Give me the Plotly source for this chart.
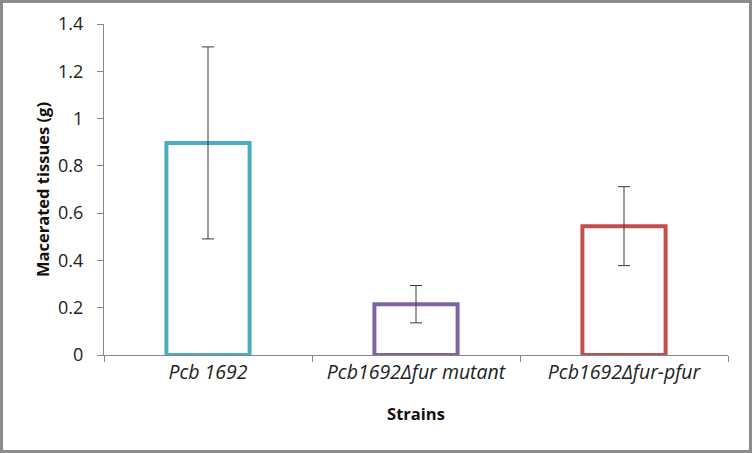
import plotly.graph_objects as go

strains = ["Pcb 1692", "Pcb1692Δfur mutant", "Pcb1692Δfur-pfur"]
macerated = [0.897, 0.215, 0.545]
errors = [0.406, 0.079, 0.167]
colors = ["#4BACC6", "#8064A2", "#C0504D"]
y_ticks = [0, 0.2, 0.4, 0.6, 0.8, 1, 1.2, 1.4]

W, H = 752, 453
L, R, T, B = 104, 24, 24, 98

fig = go.Figure()
fig.add_trace(go.Bar(
    x=strains, y=macerated, width=0.4,
    marker=dict(color="white", line=dict(color=colors, width=4)),
    error_y=dict(type="data", array=errors, visible=True,
                 color="#3a3a3a", thickness=1, width=6),
))

# grey frame round the whole picture
pw, ph = W - L - R, H - T - B
fig.add_shape(type="rect", xref="paper", yref="paper",
              x0=-(L - 1.5) / pw, x1=1 + (R - 1.5) / pw,
              y0=-(B - 1.5) / ph, y1=1 + (T - 1.5) / ph,
              line=dict(color="#8c8c8c", width=3))

fig.update_xaxes(type="category", range=[-0.5, 2.5], tickson="boundaries",
                 ticks="outside", ticklen=6, tickcolor="#868686",
                 showline=True, linecolor="#868686", linewidth=1,
                 tickfont=dict(size=19.5, style="italic", color="#222"),
                 title=dict(text="<b>Strains</b>", font=dict(size=16.5, color="#111"),
                            standoff=24))
fig.update_yaxes(range=[0, 1.4], tickvals=y_ticks,
                 ticktext=[str(v) for v in y_ticks],
                 ticks="outside", ticklen=6, tickcolor="#868686",
                 showline=True, linecolor="#868686", linewidth=1,
                 showgrid=False, zeroline=False, ticklabelstandoff=10,
                 tickfont=dict(size=18, color="#222"),
                 title=dict(text="<b>Macerated tissues (g)</b>",
                            font=dict(size=16.5, color="#111"), standoff=4))

fig.update_layout(width=W, height=H, margin=dict(l=L, r=R, t=T, b=B,
                                                 autoexpand=False),
                  plot_bgcolor="white", paper_bgcolor="white",
                  font=dict(family="Open Sans"), showlegend=False)

fig.write_html("out.html", config={"displayModeBar": False},
               post_script="document.body.style.margin='0';")
